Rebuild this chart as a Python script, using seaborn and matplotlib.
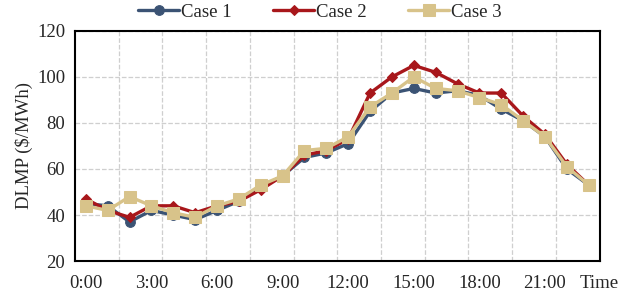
import pandas as pd
import matplotlib
matplotlib.use("Agg")
import matplotlib.pyplot as plt
import seaborn as sns

# ==========================================
# Data
# ==========================================

hours = list(range(24))
tick_labels = ["0:00", "3:00", "6:00", "9:00", "12:00", "15:00", "18:00", "21:00"]

case1 = [45, 44, 37, 42, 40, 38, 42, 46, 52, 57, 65, 67, 71, 85,
         93, 95, 93, 94, 92, 86, 81, 74, 60, 53]
case2 = [47, 42, 39, 44, 44, 41, 44, 46, 51, 57, 66, 68, 73, 93,
         100, 105, 102, 97, 93, 93, 83, 75, 62, 53]
case3 = [44, 42, 48, 44, 41, 39, 44, 47, 53, 57, 68, 69, 74, 87,
         93, 100, 95, 94, 91, 88, 81, 74, 61, 53]

df = pd.DataFrame({
    "Hour": hours * 3,
    "DLMP": case1 + case2 + case3,
    "Case": ["Case 1"] * 24 + ["Case 2"] * 24 + ["Case 3"] * 24,
})

colors = {"Case 1": "#3B5374", "Case 2": "#A8171B", "Case 3": "#D8C38A"}
markers = {"Case 1": "o", "Case 2": "D", "Case 3": "s"}
sizes = {"Case 1": 7, "Case 2": 5, "Case 3": 8}

# ==========================================
# Plot
# ==========================================

sns.set_style("white")
plt.rcParams["font.family"] = ["Liberation Serif", "DejaVu Serif"]

fig = plt.figure(figsize=(6.24, 2.97), dpi=100)
ax = fig.add_axes([0.120, 0.121, 0.841, 0.775])

for case in ["Case 1", "Case 2", "Case 3"]:
    sns.lineplot(
        data=df[df["Case"] == case], x="Hour", y="DLMP",
        color=colors[case], marker=markers[case], markersize=sizes[case],
        markeredgecolor=colors[case], linewidth=2.4, label=case, ax=ax,
    )

ax.set_xlim(-0.5, 23.5)
ax.set_ylim(20, 120)
ax.set_yticks([20, 40, 60, 80, 100, 120])
ax.set_xticks(range(0, 24, 3))
ax.set_xticklabels(tick_labels)
ax.set_xticks([1.5 + 2 * i for i in range(11)], minor=True)
ax.tick_params(axis="x", which="both", length=0, labelsize=13.5, pad=10)
ax.tick_params(axis="y", which="both", length=0, labelsize=13.5, pad=7)

ax.grid(False)
ax.grid(True, which="minor", axis="x", color="#CFCFCF", linestyle="--", linewidth=0.9)
ax.grid(True, which="major", axis="y", color="#CFCFCF", linestyle="--", linewidth=0.9)

for s in ax.spines.values():
    s.set_color("black")
    s.set_linewidth(1.5)

ax.set_xlabel("")
ax.set_ylabel("DLMP ($/MWh)", fontsize=13.5, labelpad=3)
ax.text(23.5, -0.06, "Time", transform=ax.get_xaxis_transform(),
        ha="center", va="top", fontsize=13.5)

ax.legend(loc="center", bbox_to_anchor=(0.467, 1.08), ncol=3, frameon=False,
          fontsize=13.5, handlelength=2.2, handletextpad=0.1, columnspacing=2.2)

plt.savefig("out.png", dpi=100)
plt.close()
